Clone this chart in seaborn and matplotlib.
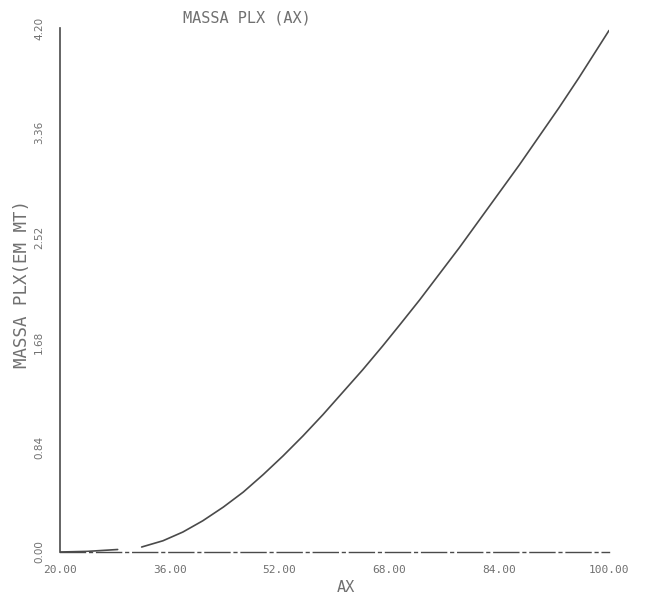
import matplotlib
matplotlib.use("Agg")
import matplotlib.pyplot as plt
import seaborn as sns
import pandas as pd

# Mass of PLX as a function of AX
ax_low = [20.0, 24.0, 28.4]
massa_low = [0.00, 0.005, 0.02]

ax_main = [31.9, 35.0, 37.9, 40.8, 43.8, 46.7, 49.6, 52.5, 55.4, 58.3, 61.2, 64.1,
           67.0, 69.5, 72.4, 75.3, 78.2, 81.1, 84.0, 86.9, 89.8, 92.7, 95.6, 100.0]
massa_main = [0.04, 0.09, 0.16, 0.25, 0.36, 0.48, 0.62, 0.77, 0.93, 1.10, 1.28, 1.46,
              1.65, 1.82, 2.02, 2.23, 2.44, 2.66, 2.88, 3.10, 3.33, 3.56, 3.80, 4.18]

x_ticks = [20, 36, 52, 68, 84, 100]
x_labels = ["20.00", "36.00", "52.00", "68.00", "84.00", "100.00"]
y_ticks = [0.00, 0.84, 1.68, 2.52, 3.36, 4.20]
y_labels = ["0.00", "0.84", "1.68", "2.52", "3.36", "4.20"]

sns.set_theme(style="white")
plt.rcParams["font.family"] = ["DejaVu Sans Mono"]

ink = "#4a4a4a"
text_ink = "#707070"

fig = plt.figure(figsize=(6.56, 5.99), dpi=100)
ax = fig.add_axes([60 / 656, 47 / 599, 549 / 656, 524 / 599])

df_low = pd.DataFrame({"AX": ax_low, "MASSA": massa_low})
df_main = pd.DataFrame({"AX": ax_main, "MASSA": massa_main})
sns.lineplot(data=df_low, x="AX", y="MASSA", ax=ax, color=ink, linewidth=1.2)
sns.lineplot(data=df_main, x="AX", y="MASSA", ax=ax, color=ink, linewidth=1.2)

ax.set_xlim(20, 100)
ax.set_ylim(0, 4.20)
ax.set_xticks(x_ticks)
ax.set_xticklabels(x_labels, color=text_ink, fontsize=8)
ax.set_yticks(y_ticks)
ax.set_yticklabels(y_labels, color=text_ink, fontsize=7.5, rotation=90, va="center",
                   family=["DejaVu Sans"])
ax.tick_params(axis="both", direction="inout", length=7, width=1.0, color=ink)
ax.tick_params(axis="x", pad=6)
ax.tick_params(axis="y", pad=8)

for side in ("top", "right"):
    ax.spines[side].set_visible(False)
ax.spines["left"].set_color(ink)
ax.spines["left"].set_linewidth(1.2)
ax.spines["bottom"].set_color(ink)
ax.spines["bottom"].set_linewidth(1.0)
ax.spines["bottom"].set_linestyle((0, (18, 3, 2, 3)))

ax.set_xlabel("")
ax.set_ylabel("")

fig.text(346 / 656, 1 - 588 / 599, "AX", color=text_ink, fontsize=11,
         ha="center", va="center")
fig.text(22 / 656, 1 - 284 / 599, "MASSA PLX(EM MT)", color=text_ink, fontsize=12.5,
         rotation=90, ha="center", va="center")
fig.text(183 / 656, 1 - 18 / 599, "MASSA PLX (AX)", color=text_ink, fontsize=11,
         ha="left", va="center")

fig.savefig("out.png", dpi=100, facecolor="white")
